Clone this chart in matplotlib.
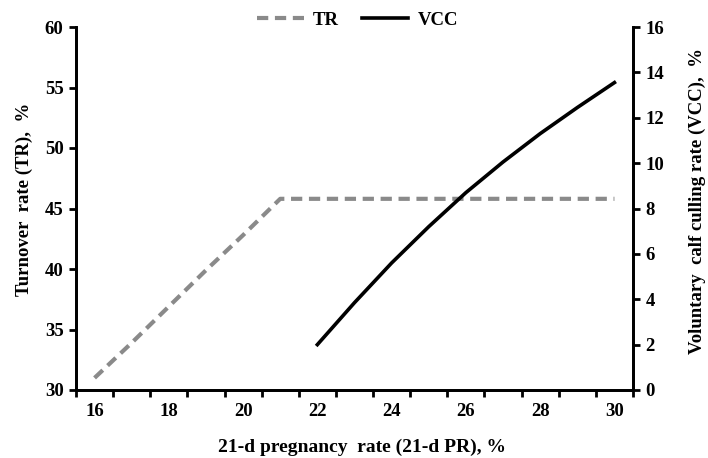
import numpy as np
import matplotlib.pyplot as plt

plt.rcParams['font.family'] = ['Liberation Serif', 'DejaVu Serif']
plt.rcParams['font.weight'] = 'bold'

# 21-d pregnancy rate categories
pr = [16, 17, 18, 19, 20, 21, 22, 23, 24, 25, 26, 27, 28, 29, 30]
# turnover rate (TR), %
tr = [31.0, 33.9, 36.9, 39.9, 42.8, 45.8, 45.8, 45.8, 45.8, 45.8, 45.8, 45.8, 45.8, 45.8, 45.8]
# voluntary calf culling (VCC), % -- only from 22 on
pr_vcc = [22, 23, 24, 25, 26, 27, 28, 29, 30]
vcc = [2.0, 3.85, 5.6, 7.2, 8.7, 10.05, 11.3, 12.45, 13.55]

fs = 13.5

fig = plt.figure(figsize=(7.08, 4.58), dpi=100)
ax = fig.add_axes([76/708, 1-390/458, 557/708, 363/458])
ax2 = ax.twinx()

l1, = ax.plot(pr, tr, color='#8a8a8a', lw=3, linestyle=(0, (2.7, 1.6)),
              dash_capstyle='butt', label='TR')
l2, = ax2.plot(pr_vcc, vcc, color='black', lw=2.6, label='VCC')

ax.set_xlim(15.5, 30.5)
ax.set_ylim(30, 60)
ax2.set_ylim(0, 16)
ax.set_yticks(np.arange(30, 61, 5))
ax2.set_yticks(np.arange(0, 17, 2))
ax.set_xticks(np.arange(16, 31, 2))
ax.set_xticks(np.arange(15.5, 30.6, 1), minor=True)

for a in (ax, ax2):
    a.spines['top'].set_visible(False)
    for s in a.spines.values():
        s.set_linewidth(2)
ax.tick_params(axis='x', which='major', length=0, pad=9, labelsize=fs)
ax.tick_params(axis='x', which='minor', length=5, width=2)
ax.tick_params(axis='y', length=5, width=2, labelsize=fs, pad=4)
ax2.tick_params(axis='y', length=5, width=2, labelsize=fs, pad=4)

ax.set_xlabel('21-d pregnancy  rate (21-d PR), %', fontsize=14, fontweight='bold')
ax.set_ylabel('Turnover  rate (TR),  %', fontsize=fs, fontweight='bold')
ax2.set_ylabel('Voluntary  calf culling rate (VCC),  %', fontsize=fs, fontweight='bold')
ax.xaxis.set_label_coords(0.513, -0.135)
ax.yaxis.set_label_coords(-0.077, 0.525)
ax2.yaxis.set_label_coords(1.1, 0.52)

fig.legend(handles=[l1, l2], loc='center', bbox_to_anchor=(0.505, 1-20/458), ncol=2,
           frameon=False, fontsize=fs, handlelength=2.5, handletextpad=0.5,
           columnspacing=1.2)

fig.savefig('out.png', dpi=100)
